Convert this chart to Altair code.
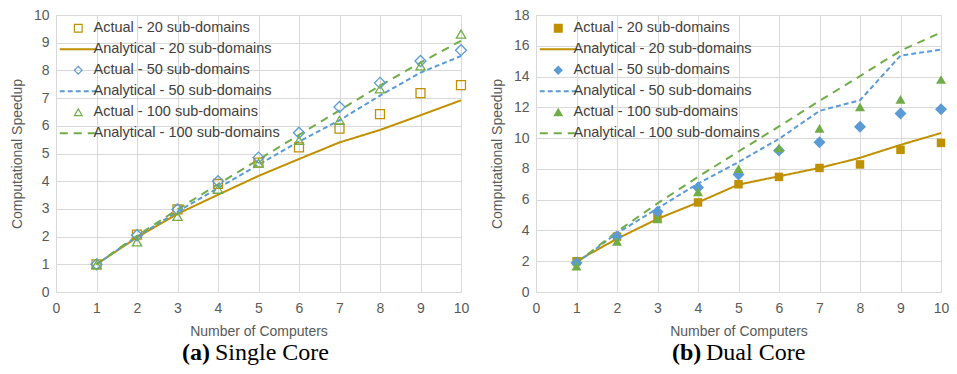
import altair as alt
import pandas as pd

computers = list(range(1, 11))
series_names = [
    "Actual - 20 sub-domains",
    "Analytical - 20 sub-domains",
    "Actual - 50 sub-domains",
    "Analytical - 50 sub-domains",
    "Actual - 100 sub-domains",
    "Analytical - 100 sub-domains",
]

# (a) Single core
single_act20 = [1.0, 2.07, 2.98, 3.9, 4.67, 5.22, 5.9, 6.42, 7.18, 7.47]
single_ana20 = [1.0, 1.97, 2.82, 3.51, 4.19, 4.8, 5.4, 5.85, 6.38, 6.92]
single_act50 = [1.0, 2.05, 2.98, 4.0, 4.85, 5.75, 6.68, 7.55, 8.34, 8.73]
single_ana50 = [1.0, 2.0, 2.9, 3.75, 4.6, 5.43, 6.2, 7.09, 7.92, 8.52]
single_act100 = [0.98, 1.81, 2.73, 3.71, 4.65, 5.47, 6.2, 7.33, 8.16, 9.31]
single_ana100 = [1.0, 2.03, 2.98, 3.89, 4.78, 5.67, 6.56, 7.45, 8.28, 9.07]

# (b) Dual core
dual_act20 = [2.0, 3.6, 4.83, 5.82, 7.0, 7.48, 8.06, 8.29, 9.24, 9.69]
dual_ana20 = [2.0, 3.46, 4.75, 5.82, 6.98, 7.52, 8.06, 8.72, 9.56, 10.33]
dual_act50 = [1.89, 3.61, 5.22, 6.79, 7.63, 9.19, 9.73, 10.74, 11.6, 11.88]
dual_ana50 = [1.89, 3.82, 5.43, 7.05, 8.44, 9.95, 11.77, 12.46, 15.36, 15.75]
dual_act100 = [1.68, 3.29, 4.75, 6.51, 8.01, 9.37, 10.63, 12.03, 12.52, 13.81]
dual_ana100 = [1.89, 3.93, 5.76, 7.48, 9.13, 10.76, 12.42, 14.03, 15.68, 16.86]

colors = ["#BF9000", "#BF9000", "#5B9BD5", "#5B9BD5", "#70AD47", "#70AD47"]
shapes = ["square", "stroke", "diamond", "stroke", "triangle-up", "stroke"]
dashes = [[1, 0], [1, 0], [1, 0], [5, 3], [1, 0], [8, 6]]
marker_sizes_hollow = [80, 0, 121, 0, 85, 0]
marker_sizes_filled = [72, 0, 144, 0, 100, 0]

GRID = "#D9D9D9"
TXT = "#595959"


def make_df(vals, msizes):
    rows = []
    for name, ys, ms in zip(series_names, vals, msizes):
        for x, y in zip(computers, ys):
            rows.append({"x": x, "y": y, "series": name, "kind": name.split(" ")[0], "msize": ms})
    return pd.DataFrame(rows)


def panel(df, ymax, ystep, filled, tag, caption, tag_x, cap_x):
    xenc = alt.X(
        "x:Q",
        scale=alt.Scale(domain=[0, 10], nice=False),
        axis=alt.Axis(values=list(range(0, 11)), title="Number of Computers", labelFlush=False),
    )
    yenc = alt.Y(
        "y:Q",
        scale=alt.Scale(domain=[0, ymax], nice=False),
        axis=alt.Axis(values=list(range(0, ymax + 1, ystep)), title="Computational Speedup"),
    )
    legend = alt.Legend(
        title=None,
        orient="none",
        legendX=0,
        legendY=6,
        labelFont="Liberation Sans",
        labelFontSize=14.5,
        labelColor="#404040",
        labelLimit=400,
        symbolSize={"expr": "datum && datum.value && indexof(datum.value, 'Analytical') == 0 ? 1369 : 60"},
        symbolStrokeWidth={"expr": "datum && datum.value && indexof(datum.value, 'Analytical') == 0 ? 2 : 1.2"},
        symbolOffset=15,
        rowPadding=6,
        labelOffset=8,
        padding=0,
    )
    color = alt.Color("series:N", scale=alt.Scale(domain=series_names, range=colors), legend=legend)
    lines = (
        alt.Chart(df)
        .transform_filter(alt.datum.kind == "Analytical")
        .mark_line(strokeWidth=2)
        .encode(
            x=xenc,
            y=yenc,
            color=color,
            strokeDash=alt.StrokeDash("series:N", scale=alt.Scale(domain=series_names, range=dashes), legend=legend),
        )
    )
    points = (
        alt.Chart(df)
        .transform_filter(alt.datum.kind == "Actual")
        .mark_point(filled=filled, strokeWidth=1.3, opacity=1)
        .encode(
            x=xenc,
            y=yenc,
            color=color,
            shape=alt.Shape("series:N", scale=alt.Scale(domain=series_names, range=shapes), legend=legend),
            size=alt.Size("msize:Q", scale=None, legend=None),
        )
    )
    cap_a = (
        alt.Chart(pd.DataFrame({"t": [tag]}))
        .mark_text(font="Liberation Serif", fontSize=24, fontWeight="bold", align="left", baseline="alphabetic", color="black")
        .encode(text="t:N", x=alt.value(tag_x), y=alt.value(345))
    )
    cap_b = (
        alt.Chart(pd.DataFrame({"t": [caption]}))
        .mark_text(font="Liberation Serif", fontSize=24, align="left", baseline="alphabetic", color="black")
        .encode(text="t:N", x=alt.value(cap_x), y=alt.value(345))
    )
    return alt.layer(lines, points, cap_a, cap_b).properties(width=405, height=277)


left = panel(
    make_df([single_act20, single_ana20, single_act50, single_ana50, single_act100, single_ana100], marker_sizes_hollow),
    10, 1, False, "(a)", "Single Core", 126, 159,
)
right = panel(
    make_df([dual_act20, dual_ana20, dual_act50, dual_ana50, dual_act100, dual_ana100], marker_sizes_filled),
    18, 2, True, "(b)", "Dual Core", 136, 170,
)

chart = (
    alt.hconcat(left, right, spacing=20)
    .resolve_scale(color="independent", shape="independent", strokeDash="independent", y="independent", x="independent")
    .properties(padding={"left": 2, "top": 0, "right": 0, "bottom": 0})
    .configure_view(strokeWidth=0)
    .configure_axis(
        grid=True,
        gridColor=GRID,
        domainColor=GRID,
        ticks=False,
        labelFont="Liberation Sans",
        labelFontSize=14,
        labelColor=TXT,
        titleFont="Liberation Sans",
        titleFontSize=14,
        titleFontWeight="normal",
        titleColor=TXT,
    )
    .configure_axisX(labelPadding=9, titlePadding=9)
    .configure_axisY(labelPadding=7, titlePadding=9)
)

chart.save("out.html", embed_options={"renderer": "svg", "actions": False})
